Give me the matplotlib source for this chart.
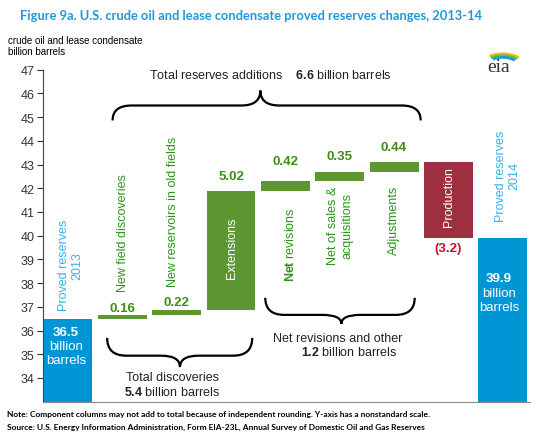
import numpy as np
import matplotlib
matplotlib.use('Agg')
import matplotlib.pyplot as plt
from matplotlib.path import Path
from matplotlib.patches import PathPatch, Arc

plt.rcParams['font.family'] = ['Liberation Sans', 'DejaVu Sans']
plt.rcParams['mathtext.fontset'] = 'custom'
plt.rcParams['mathtext.rm'] = 'Liberation Sans'
plt.rcParams['mathtext.bf'] = 'Liberation Sans:bold'

# data
start_value = 36.5
end_value = 39.9
changes = [0.16, 0.22, 5.02, 0.42, 0.35, 0.44, -3.2]
change_labels = ['0.16', '0.22', '5.02', '0.42', '0.35', '0.44', '(3.2)']
categories = ['Proved reserves\n2013', 'New field discoveries', 'New reservoirs in old fields',
              'Extensions', r'$\mathbf{Net}$ revisions', 'Net of sales &\nacquisitions',
              'Adjustments', 'Production', 'Proved reserves\n2014']
yticks = list(range(34, 48))

blue = '#0096d6'
green = '#5e9732'
maroon = '#9e2f40'
lblue = '#35b2ec'
tgreen = '#2a9618'
vgreen = '#3f8c18'

fig = plt.figure(figsize=(5.41, 4.35), dpi=100)
ax = fig.add_axes([0.0795, 0.0743, 0.9, 0.7632])

x = np.arange(len(categories))
w = 0.9
# waterfall bottoms
bottoms = start_value + np.concatenate([[0], np.cumsum(changes)[:-1]])
ax.bar(x[0], start_value - 33, bottom=33, width=w, color=blue)
ax.bar(x[8], end_value - 33, bottom=33, width=w, color=blue)
cols = [green] * 6 + [maroon]
ax.bar(x[1:8], changes, bottom=bottoms, width=w, color=cols)

# value labels above/below the change bars
label_off = [0.29, 0.32, 0.62, 0.85, 0.70, 0.65, -0.43]
for i, (c, lab) in enumerate(zip(changes, change_labels)):
    top = bottoms[i] + c
    ax.text(x[i + 1], top + label_off[i], lab, ha='center', va='center',
            fontsize=9.5, fontweight='bold', color='#c8102e' if c < 0 else vgreen)

# rotated category labels
rot = dict(rotation=90, ha='center', fontsize=9, multialignment='center')
ax.text(0.05, 36.85, categories[0], va='bottom', color=lblue, **rot)
ax.text(8.09, 40.64, categories[8], va='bottom', color=lblue, **rot)
ax.text(1.01, 37.68, categories[1], va='bottom', color=tgreen, **rot)
ax.text(1.94, 37.88, categories[2], va='bottom', color=tgreen, **rot)
ax.text(3.02, 39.5, categories[3], va='center', color='white', **rot)
ax.text(4.09, 38.1, categories[4], va='bottom', color=tgreen, **rot)
ax.text(5.01, 38.8, categories[5], va='bottom', color=tgreen, **rot)
ax.text(5.99, 39.23, categories[6], va='bottom', color=tgreen, **rot)
ax.text(7.02, 41.66, categories[7], va='center', color='white', **rot)

# totals inside the blue bars
for xc, y0, val in [(-0.04, 35.95, start_value), (7.93, 38.2, end_value)]:
    ax.text(xc, y0, f'{val:.1f}', ha='center', va='center', color='white',
            fontsize=9.5, fontweight='bold')
    ax.text(xc, y0 - 0.61, 'billion', ha='center', va='center', color='white', fontsize=9.5)
    ax.text(xc, y0 - 1.2, 'barrels', ha='center', va='center', color='white', fontsize=9.5)


def brace(x0, x1, xm, ytip, yflat, ypt, r=0.35):
    verts = [(x0, ytip), (x0, yflat), (x0 + r, yflat),
             (xm - r, yflat), (xm, yflat), (xm, ypt),
             (xm, yflat), (xm + r, yflat),
             (x1 - r, yflat), (x1, yflat), (x1, ytip)]
    codes = [Path.MOVETO, Path.CURVE3, Path.CURVE3,
             Path.LINETO, Path.CURVE3, Path.CURVE3,
             Path.CURVE3, Path.CURVE3,
             Path.LINETO, Path.CURVE3, Path.CURVE3]
    ax.add_patch(PathPatch(Path(verts, codes), fc='none', ec='black', lw=1.6,
                           clip_on=False))


brace(0.82, 6.49, 3.54, 44.86, 45.49, 46.12)
brace(0.72, 3.39, 2.06, 35.69, 34.94, 34.46)
brace(3.63, 6.38, 5.03, 37.38, 36.66, 36.28)

ax.text(3.73, 46.78, r'Total reserves additions    $\mathbf{6.6}$ billion barrels',
        ha='center', va='center', fontsize=9, color='#222222')
ax.text(1.92, 34.04, 'Total discoveries', ha='center', va='center', fontsize=9, color='#222222')
ax.text(1.92, 33.42, r'$\mathbf{5.4}$ billion barrels', ha='center', va='center',
        fontsize=9, color='#222222')
ax.text(4.97, 35.69, 'Net revisions and other', ha='center', va='center', fontsize=9,
        color='#222222')
ax.text(5.17, 35.11, r'$\mathbf{1.2}$ billion barrels', ha='center', va='center',
        fontsize=9, color='#222222')

ax.set_xlim(-0.46, 8.5)
ax.set_ylim(33, 47)
ax.set_yticks(yticks)
ax.set_xticks([])
ax.tick_params(axis='y', direction='out', length=4, labelsize=9, colors='#333333', pad=2)
ax.spines['top'].set_visible(False)
ax.spines['right'].set_visible(False)
ax.spines['left'].set_color('#444444')
ax.spines['bottom'].set_color('#888888')

# title and notes
fig.text(0.037, 0.963, 'Figure 9a. U.S. crude oil and lease condensate proved reserves changes, 2013-14',
         fontsize=9.3, fontweight='bold', color='#1e9ad9', family='Lato', va='center')
fig.text(0.0148, 0.906, 'crude oil and lease condensate', fontsize=7, va='center')
fig.text(0.0148, 0.880, 'billion barrels', fontsize=7, va='center')
fig.text(0.013, 0.046, 'Note: Component columns may not add to total because of independent rounding. '
         'Y-axis has a nonstandard scale.', fontsize=6, family='Lato', fontweight='bold', va='center')
fig.text(0.013, 0.018, 'Source: U.S. Energy Information Administration, Form EIA-23L, Annual Survey '
         'of Domestic Oil and Gas Reserves', fontsize=6, family='Lato', fontweight='bold',
         va='center')

# eia logo
lax = fig.add_axes([0.885, 0.83, 0.08, 0.075])
lax.axis('off')
lax.set_xlim(0, 1)
lax.set_ylim(0, 1)
lax.text(0.45, 0.2, 'eia', family='Liberation Serif', fontsize=14, color='#333333',
         ha='center', va='center')
for rr, cc in [(0.55, '#f2c21b'), (0.48, '#6cbf3c'), (0.41, '#1f9bd7')]:
    lax.add_patch(Arc((0.55, 0.15), 2 * rr, 1.6 * rr, theta1=40, theta2=130, color=cc, lw=2))

fig.savefig('out.png', dpi=100)
